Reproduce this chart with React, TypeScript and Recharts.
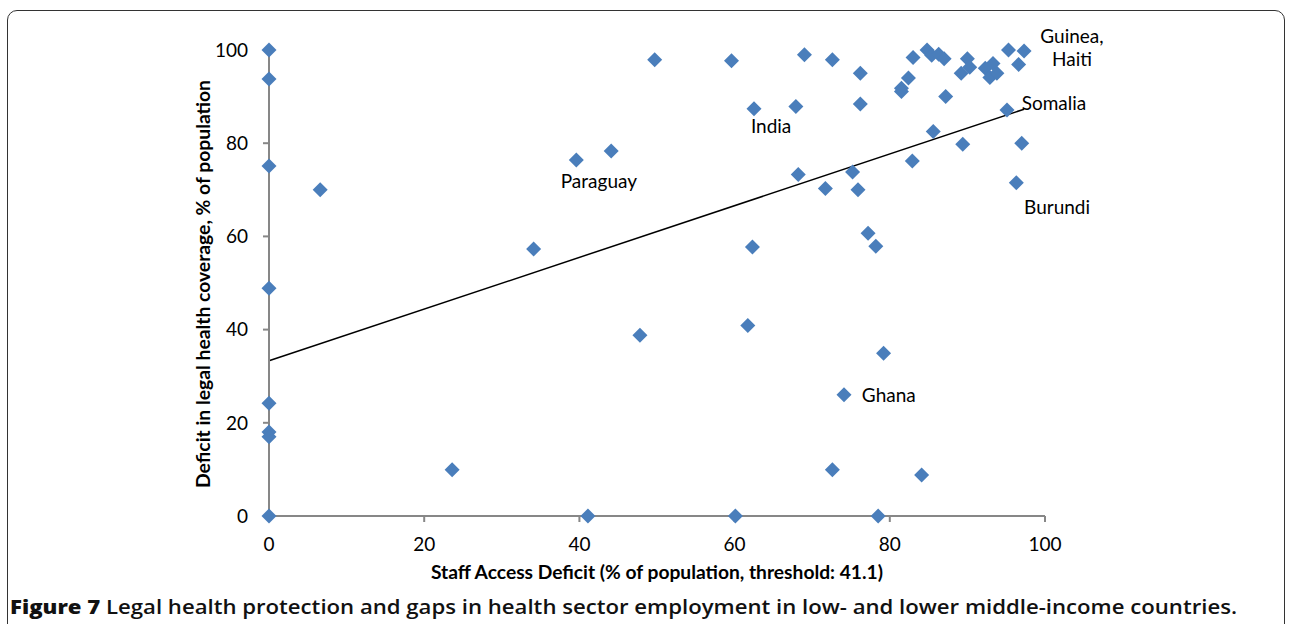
import React from "react";
import { ScatterChart, Scatter, XAxis, YAxis, ReferenceLine, ReferenceDot } from "recharts";

// Staff access deficit (x) vs deficit in legal health coverage (y)
const staffDeficit = [
  0, 0, 0, 0, 0, 0, 0, 0,
  6.6, 23.6, 34.1, 39.6, 44.1, 47.8, 41.1, 49.7, 59.6, 60.1, 61.7, 62.5,
  62.3, 67.9, 68.2, 69.0, 71.7, 72.6, 72.6, 74.1, 75.2, 75.9, 76.2, 76.2,
  77.2, 78.2, 78.5, 79.2, 81.5, 81.5, 82.4, 82.9, 83.0, 84.1, 84.8, 85.4,
  85.6, 86.3, 87.0, 87.2, 89.2, 89.4, 90.0, 90.3, 92.3, 92.9, 93.3, 93.8,
  95.1, 95.3, 96.3, 96.6, 97.0, 97.3,
];
const coverageDeficit = [
  100, 93.8, 75.1, 48.9, 24.2, 18.0, 17.0, 0,
  70.0, 9.9, 57.3, 76.4, 78.3, 38.8, 0, 97.9, 97.7, 0, 40.9, 87.4,
  57.7, 87.9, 73.3, 99.0, 70.3, 97.9, 9.9, 26.0, 73.8, 70.0, 95.0, 88.4,
  60.7, 57.9, 0, 34.9, 91.8, 91.1, 94.0, 76.2, 98.4, 8.8, 100, 98.9,
  82.5, 99.1, 98.1, 90.0, 95.0, 79.8, 98.1, 96.3, 96.1, 94.1, 97.1, 95.0,
  87.1, 100, 71.5, 96.9, 80.0, 99.8,
];

const xTicks = [0, 20, 40, 60, 80, 100];
const yTicks = [0, 20, 40, 60, 80, 100];

// Linear trend line end points
const trendX = [0, 97.3];
const trendY = [33.3, 87.3];

// Country annotations (text start position in data units)
const labelText = ["Guinea,", "Haiti", "Somalia", "India", "Paraguay", "Burundi", "Ghana"];
const labelX = [99.4, 100.9, 97.0, 62.1, 37.6, 97.3, 76.4];
const labelY = [103.2, 98.1, 88.8, 83.7, 71.9, 66.5, 26.0];

const xTitle = "Staff Access Deficit (% of population, threshold: 41.1)";
const yTitle = "Deficit in legal health coverage, % of population";
const captionLead = "Figure 7";
const captionText = " Legal health protection and gaps in health sector employment in low- and lower middle-income countries.";

const points = staffDeficit.map((x, i) => ({ x, y: coverageDeficit[i] }));

const FONT = "Lato, 'Open Sans', sans-serif";
const BLUE = "#4A7EBB";
const AXIS = "#878787";

const Diamond = (props: any) => {
  const { cx, cy } = props;
  const r = 7.5;
  return (
    <polygon
      points={`${cx},${cy - r} ${cx + r},${cy} ${cx},${cy + r} ${cx - r},${cy}`}
      fill={BLUE}
    />
  );
};

export default function App() {
  return (
    <div
      style={{
        position: "absolute",
        left: 0,
        top: 0,
        width: 1289,
        height: 624,
        overflow: "hidden",
        background: "#fff",
        fontFamily: FONT,
      }}
    >
      <div
        style={{
          position: "absolute",
          left: 7,
          top: 10,
          width: 1278,
          height: 700,
          border: "1.5px solid #333",
          borderRadius: 10,
          boxSizing: "border-box",
        }}
      />
      <div style={{ position: "absolute", left: 0, top: 0 }}>
        <ScatterChart
          width={1289}
          height={624}
          margin={{ top: 50, right: 244, bottom: 68, left: 209 }}
        >
          <XAxis
            type="number"
            dataKey="x"
            domain={[0, 100]}
            ticks={xTicks}
            height={40}
            tickSize={6}
            tickMargin={16}
            stroke={AXIS}
            strokeWidth={2}
            tick={{ fill: "#000", fontSize: 19, fontFamily: FONT }}
          />
          <YAxis
            type="number"
            dataKey="y"
            domain={[0, 100]}
            ticks={yTicks}
            width={60}
            tickSize={6}
            tickMargin={15}
            stroke={AXIS}
            strokeWidth={2}
            tick={{ fill: "#000", fontSize: 19, fontFamily: FONT }}
          />
          <ReferenceLine
            segment={[
              { x: trendX[0], y: trendY[0] },
              { x: trendX[1], y: trendY[1] },
            ]}
            stroke="#000"
            strokeWidth={1.5}
            ifOverflow="visible"
          />
          <Scatter data={points} shape={Diamond} isAnimationActive={false} />
          {labelText.map((t, i) => (
            <ReferenceDot
              key={t}
              x={labelX[i]}
              y={labelY[i]}
              r={0}
              ifOverflow="visible"
              shape={(p: any) => (
                <text
                  x={p.cx}
                  y={p.cy}
                  textAnchor="start"
                  dominantBaseline="central"
                  fontSize={19}
                  fontFamily={FONT}
                  fill="#000"
                >
                  {t}
                </text>
              )}
            />
          ))}
        </ScatterChart>
      </div>
      <svg
        width={1289}
        height={624}
        style={{ position: "absolute", left: 0, top: 0, pointerEvents: "none" }}
      >
        <text
          transform="translate(210,284) rotate(-90)"
          textAnchor="middle"
          fontFamily={FONT}
          fontWeight={700}
          fontSize={18.5}
          textLength={408}
          lengthAdjust="spacingAndGlyphs"
          fill="#000"
        >
          {yTitle}
        </text>
        <text
          x={657}
          y={579}
          textAnchor="middle"
          fontFamily={FONT}
          fontWeight={700}
          fontSize={18.5}
          textLength={452}
          lengthAdjust="spacingAndGlyphs"
          fill="#000"
        >
          {xTitle}
        </text>
        <text
          x={10}
          y={614}
          fontFamily="'Open Sans', sans-serif"
          fontWeight={600}
          fontSize={19}
          textLength={1227}
          lengthAdjust="spacingAndGlyphs"
          fill="#111"
        >
          <tspan fontWeight={800}>{captionLead}</tspan>
          {captionText}
        </text>
      </svg>
    </div>
  );
}
